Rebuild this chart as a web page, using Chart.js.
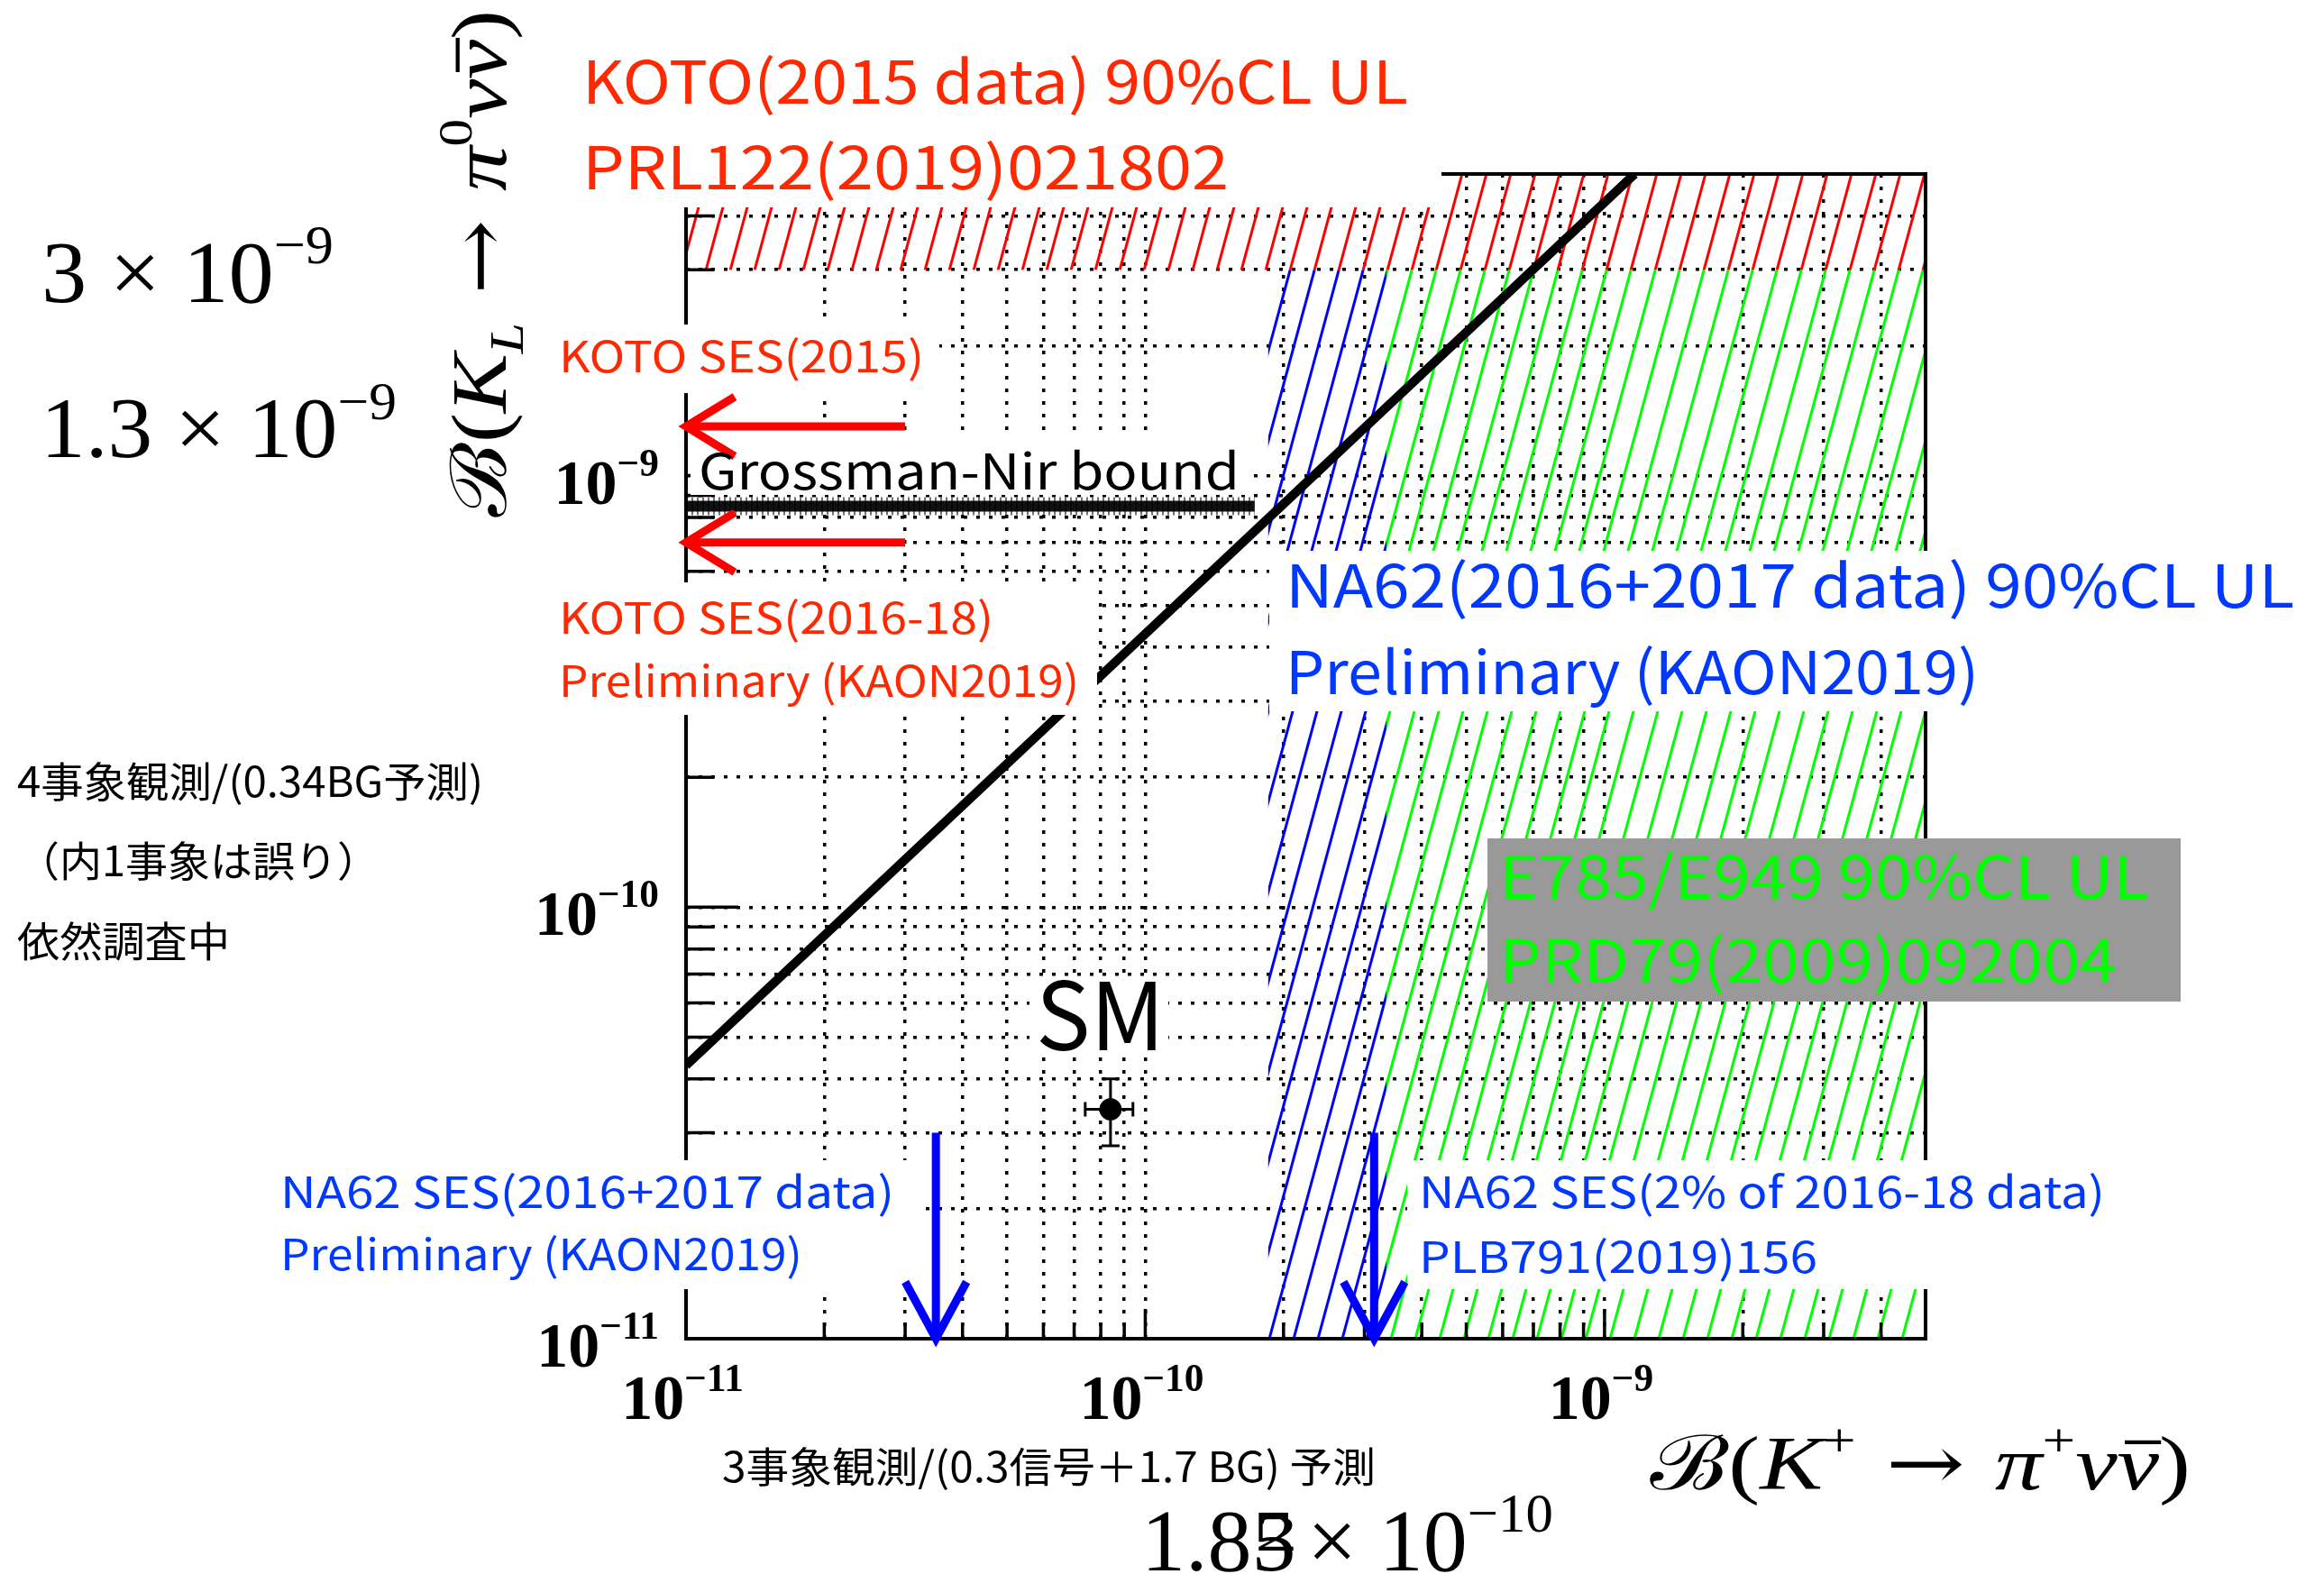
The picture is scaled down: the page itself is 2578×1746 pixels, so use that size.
<!DOCTYPE html>
<html lang="ja">
<head>
    <meta charset="UTF-8">
    <title>K_L vs K+ → πνν</title>
    <style>
        html, body { margin: 0; padding: 0; background: #fff; }
        #contenedor { width: 2578px; height: 1746px; }
    </style>
</head>
<body>
    <div id="contenedor">
        <canvas id="grafica" width="2578" height="1746"></canvas>
    </div>

    <script src="https://cdn.jsdelivr.net/npm/chart.js"></script>
    <script>
        // rango de los dos ejes (log)
        const axisMin = 1e-11;
        const axisMax = 5e-9;
        const tickValues = [
            1e-11, 2e-11, 3e-11, 4e-11, 5e-11, 6e-11, 7e-11, 8e-11, 9e-11,
            1e-10, 2e-10, 3e-10, 4e-10, 5e-10, 6e-10, 7e-10, 8e-10, 9e-10,
            1e-9, 2e-9, 3e-9, 4e-9, 5e-9
        ];
        const majorTicks = [1e-11, 1e-10, 1e-9];
        const majorExps = ['−11', '−10', '−9'];

        // limites superiores 90% CL
        const kotoULy = [3e-9, 3e-9];
        const kotoULx = [1e-11, 5e-9];
        const na62ULx = [1.85e-10, 3.35e-10];
        const na62ULy = [3e-9, 3e-9];
        const e949ULx = [3.35e-10, 5e-9];
        const e949ULy = [3e-9, 3e-9];

        // Grossman-Nir
        const gnLineX = [1e-11, 1.163e-9];
        const gnLineY = [4.3e-11, 5e-9];
        const gnBandX = [1e-11, 1.73e-10];
        const gnBandY = [8.5e-10, 8.5e-10];

        // flechas SES
        const kotoSesY = [1.3e-9, 7.0e-10];
        const kotoSesX = [3.0e-11, 1e-11];
        const na62SesX = [3.5e-11, 3.15e-10];
        const na62SesY = [3.0e-11, 1e-11];

        // modelo estandar
        const smX = [8.4e-11];
        const smXerr = [1.0e-11];
        const smY = [3.4e-11];
        const smYerr = [0.6e-11];

        const SANS = '"Noto Sans CJK JP", "Noto Sans", sans-serif';
        const SERIF = '"Liberation Serif", "DejaVu Serif", serif';
        const ARROW = '"DejaVu Serif", "DejaVu Sans", serif';
        const RED_TXT = 'rgb(255,40,0)';
        const BLUE_TXT = 'rgb(0,56,255)';

        const canvas = document.getElementById('grafica');
        const ctx = canvas.getContext('2d');

        function pts(xs, ys) {
            return xs.map((x, i) => ({ x: x, y: ys[i] }));
        }

        function hatch(color) {
            const t = document.createElement('canvas');
            t.width = 27; t.height = 100;
            const c = t.getContext('2d');
            c.strokeStyle = color;
            c.lineWidth = 3;
            for (const off of [-27, 0, 27]) {
                c.beginPath();
                c.moveTo(off - 2.7, 110);
                c.lineTo(off + 29.7, -10);
                c.stroke();
            }
            return ctx.createPattern(t, 'repeat');
        }

        function label(c, txt, x, y, size, color, width) {
            c.save();
            c.font = size + 'px ' + SANS;
            c.fillStyle = color;
            c.textAlign = 'left';
            c.textBaseline = 'alphabetic';
            c.translate(x, y);
            if (width) {
                const w = c.measureText(txt).width;
                c.scale(width / w, 1);
            }
            c.fillText(txt, 0, 0);
            c.restore();
        }

        // texto matematico: partes {t, it, pos:'sup'|'sub', bar, arrow}
        function partFont(p, size, bold) {
            const sz = p.pos ? size * 0.62 : size;
            return (p.it ? 'italic ' : '') + (bold ? 'bold ' : '') + sz + 'px ' + (p.arrow ? ARROW : SERIF);
        }
        function mathWidth(c, parts, size, bold) {
            let w = 0;
            parts.forEach(p => { c.font = partFont(p, size, bold); w += c.measureText(p.t).width; });
            return w;
        }
        function mathText(c, parts, x, y, size, bold, width) {
            c.save();
            c.translate(x, y);
            if (width) c.scale(width / mathWidth(c, parts, size, bold), 1);
            c.fillStyle = '#000';
            c.strokeStyle = '#000';
            c.textBaseline = 'alphabetic';
            c.textAlign = 'left';
            let cx = 0;
            parts.forEach(p => {
                c.font = partFont(p, size, bold);
                const dy = p.pos === 'sup' ? -size * 0.44 : (p.pos === 'sub' ? size * 0.22 : 0);
                const w = c.measureText(p.t).width;
                c.fillText(p.t, cx, dy);
                if (p.bar) {
                    c.lineWidth = size * 0.05;
                    c.beginPath();
                    c.moveTo(cx + size * 0.08, dy - size * 0.62);
                    c.lineTo(cx + w + size * 0.02, dy - size * 0.62);
                    c.stroke();
                }
                cx += w;
            });
            c.restore();
        }

        function arrow(c, x0, y0, x1, y1, color, headLen, headHalf) {
            const ang = Math.atan2(y1 - y0, x1 - x0);
            c.strokeStyle = color;
            c.lineWidth = 9;
            c.lineCap = 'butt';
            c.lineJoin = 'miter';
            c.beginPath(); c.moveTo(x0, y0); c.lineTo(x1, y1); c.stroke();
            const bx = x1 - headLen * Math.cos(ang), by = y1 - headLen * Math.sin(ang);
            const px = -Math.sin(ang) * headHalf, py = Math.cos(ang) * headHalf;
            c.beginPath();
            c.moveTo(bx + px, by + py);
            c.lineTo(x1, y1);
            c.lineTo(bx - px, by - py);
            c.stroke();
        }

        const isMajor = v => majorTicks.some(m => Math.abs(m - v) / m < 1e-6);

        const overlay = {
            id: 'overlay',
            afterDatasetsDraw(chart) {
                const c = chart.ctx;
                const xs = chart.scales.x, ys = chart.scales.y;
                const a = chart.chartArea;
                c.save();

                // marco y ticks
                c.strokeStyle = '#000';
                c.lineWidth = 4;
                c.strokeRect(a.left, a.top, a.right - a.left, a.bottom - a.top);
                c.lineWidth = 3.5;
                tickValues.forEach(v => {
                    const py = ys.getPixelForValue(v);
                    const px = xs.getPixelForValue(v);
                    c.beginPath();
                    c.moveTo(a.left, py); c.lineTo(a.left + (isMajor(v) ? 58 : 31), py);
                    c.moveTo(px, a.bottom); c.lineTo(px, a.bottom - (isMajor(v) ? 33 : 18));
                    c.stroke();
                });

                // barras de error SM
                c.lineWidth = 3;
                smX.forEach((x, i) => {
                    const px = xs.getPixelForValue(x), py = ys.getPixelForValue(smY[i]);
                    const y0 = ys.getPixelForValue(smY[i] - smYerr[i]), y1 = ys.getPixelForValue(smY[i] + smYerr[i]);
                    const x0 = xs.getPixelForValue(x - smXerr[i]), x1 = xs.getPixelForValue(x + smXerr[i]);
                    c.beginPath();
                    c.moveTo(px, y0); c.lineTo(px, y1);
                    c.moveTo(px - 10, y0); c.lineTo(px + 10, y0);
                    c.moveTo(px - 10, y1); c.lineTo(px + 10, y1);
                    c.moveTo(x0, py); c.lineTo(x1, py);
                    c.moveTo(x0, py - 8); c.lineTo(x0, py + 8);
                    c.moveTo(x1, py - 8); c.lineTo(x1, py + 8);
                    c.stroke();
                });

                // fondos de los textos
                c.fillStyle = '#fff';
                [[620, 0, 1599, 230], [612, 360, 1042, 436], [766, 481, 1390, 549],
                 [612, 646, 1217, 793], [1408, 611, 2575, 789], [1142, 1086, 1296, 1168],
                 [300, 1287, 1024, 1430], [1561, 1287, 2345, 1430]].forEach(b => {
                    c.fillRect(b[0], b[1], b[2] - b[0], b[3] - b[1]);
                });
                c.fillStyle = '#999999';
                c.fillRect(1650, 930, 769, 181);

                // flechas
                kotoSesY.forEach(y => {
                    const py = ys.getPixelForValue(y);
                    arrow(c, xs.getPixelForValue(kotoSesX[0]), py, xs.getPixelForValue(kotoSesX[1]), py, '#ff0000', 54, 33);
                });
                na62SesX.forEach(x => {
                    const px = xs.getPixelForValue(x);
                    arrow(c, px, ys.getPixelForValue(na62SesY[0]), px, ys.getPixelForValue(na62SesY[1]), '#0000ff', 63, 34);
                });

                // etiquetas de los ejes
                majorTicks.forEach((v, i) => {
                    const parts = [{ t: '10' }, { t: majorExps[i], pos: 'sup' }];
                    const w = mathWidth(c, parts, 70, true);
                    mathText(c, parts, 731 - w, ys.getPixelForValue(v) + 31, 70, true);
                    mathText(c, parts, xs.getPixelForValue(v) - 4 - w / 2, 1574, 70, true);
                });

                // titulos de los ejes
                const yTitle = [{ t: 'ℬ(' }, { t: 'K', it: true }, { t: 'L', it: true, pos: 'sub' },
                    { t: ' → ', arrow: true }, { t: 'π', it: true }, { t: '0', pos: 'sup' },
                    { t: 'ν', it: true }, { t: 'ν', it: true, bar: true }, { t: ')' }];
                c.save();
                c.translate(561, 574);
                c.rotate(-Math.PI / 2);
                mathText(c, yTitle, 0, 0, 86, false, 563);
                c.restore();
                const xTitle = [{ t: 'ℬ(' }, { t: 'K', it: true }, { t: '+', pos: 'sup' },
                    { t: ' → ', arrow: true }, { t: 'π', it: true }, { t: '+', pos: 'sup' },
                    { t: 'ν', it: true }, { t: 'ν', it: true, bar: true }, { t: ')' }];
                mathText(c, xTitle, 1830, 1652, 84, false, 600);

                // numeros grandes
                mathText(c, [{ t: '3 × 10' }, { t: '−9', pos: 'sup' }], 46, 335, 98, false, 324);
                mathText(c, [{ t: '1.3 × 10' }, { t: '−9', pos: 'sup' }], 45, 507, 96, false, 395);
                mathText(c, [{ t: '1.85' }], 1266, 1742, 98, false);
                mathText(c, [{ t: '2' }], 1392, 1720, 56, false, 48);
                mathText(c, [{ t: '× 10' }, { t: '−10', pos: 'sup' }], 1450, 1742, 98, false);

                // textos rojos
                label(c, 'KOTO(2015 data) 90%CL UL', 646, 115, 66, RED_TXT, 916);
                label(c, 'PRL122(2019)021802', 646, 210, 66, RED_TXT, 717);
                label(c, 'KOTO SES(2015)', 620, 413, 48, RED_TXT, 405);
                label(c, 'KOTO SES(2016-18)', 620, 703, 48, RED_TXT, 482);
                label(c, 'Preliminary (KAON2019)', 620, 773, 48, RED_TXT, 577);
                // negro
                label(c, 'Grossman-Nir bound', 775, 543, 55, '#000', 600);
                label(c, 'SM', 1149, 1165, 104, '#000', 143);
                // azules
                label(c, 'NA62(2016+2017 data) 90%CL UL', 1426, 674, 66, BLUE_TXT, 1119);
                label(c, 'Preliminary (KAON2019)', 1426, 770, 66, BLUE_TXT, 769);
                label(c, 'NA62 SES(2016+2017 data)', 311, 1340, 48, BLUE_TXT, 681);
                label(c, 'Preliminary (KAON2019)', 311, 1409, 48, BLUE_TXT, 579);
                label(c, 'NA62 SES(2% of 2016-18 data)', 1574, 1340, 48, BLUE_TXT, 761);
                label(c, 'PLB791(2019)156', 1574, 1412, 48, BLUE_TXT, 442);
                // verdes
                label(c, 'E785/E949 90%CL UL', 1663, 997, 66, '#00ff00', 721);
                label(c, 'PRD79(2009)092004', 1663, 1090, 66, '#00ff00', 685);
                // japones
                label(c, '4事象観測/(0.34BG予測)', 19, 884, 46, '#000', 517);
                label(c, '（内1事象は誤り）', 19, 972, 46, '#000', 402);
                label(c, '依然調査中', 19, 1061, 46, '#000', 236);
                label(c, '3事象観測/(0.3信号＋1.7 BG) 予測', 801, 1644, 46, '#000', 725);

                c.restore();
            }
        };

        const logAxis = (fitKey) => ({
            type: 'logarithmic',
            min: axisMin,
            max: axisMax,
            ticks: { display: false },
            grid: { color: '#000', lineWidth: 3.5, drawTicks: false },
            border: { display: false, dash: [4, 10] },
            afterBuildTicks: s => { s.ticks = tickValues.map(v => ({ value: v })); },
            afterFit: s => { s[fitKey] = 0; }
        });

        new Chart(ctx, {
            type: 'scatter',
            data: {
                datasets: [
                    {   // SM
                        data: pts(smX, smY),
                        pointRadius: 12,
                        backgroundColor: '#000',
                        borderColor: '#000'
                    },
                    {   // banda GN
                        data: pts(gnBandX, gnBandY),
                        showLine: true, pointRadius: 0,
                        borderColor: 'rgba(0,0,0,0.55)', borderWidth: 20, borderDash: [2, 4]
                    },
                    {
                        data: pts(gnBandX, gnBandY),
                        showLine: true, pointRadius: 0,
                        borderColor: '#111', borderWidth: 12
                    },
                    {   // Grossman-Nir
                        data: pts(gnLineX, gnLineY),
                        showLine: true, pointRadius: 0,
                        borderColor: '#000', borderWidth: 10, borderCapStyle: 'butt'
                    },
                    {   // KOTO UL
                        data: pts(kotoULx, kotoULy),
                        showLine: true, pointRadius: 0, fill: 'end',
                        borderColor: 'rgba(0,0,0,0)', backgroundColor: hatch('#ff0000')
                    },
                    {   // E949 UL
                        data: pts(e949ULx, e949ULy),
                        showLine: true, pointRadius: 0, fill: 'start',
                        borderColor: 'rgba(0,0,0,0)', backgroundColor: hatch('#00ff00')
                    },
                    {   // NA62 UL
                        data: pts(na62ULx, na62ULy),
                        showLine: true, pointRadius: 0, fill: 'start',
                        borderColor: 'rgba(0,0,0,0)', backgroundColor: hatch('#0000ff')
                    }
                ]
            },
            options: {
                responsive: false,
                animation: false,
                layout: { padding: { left: 761, right: 442, top: 193, bottom: 261 } },
                plugins: { legend: { display: false }, tooltip: { enabled: false } },
                scales: {
                    x: logAxis('height'),
                    y: logAxis('width')
                }
            },
            plugins: [overlay]
        });
    </script>
</body>
</html>
